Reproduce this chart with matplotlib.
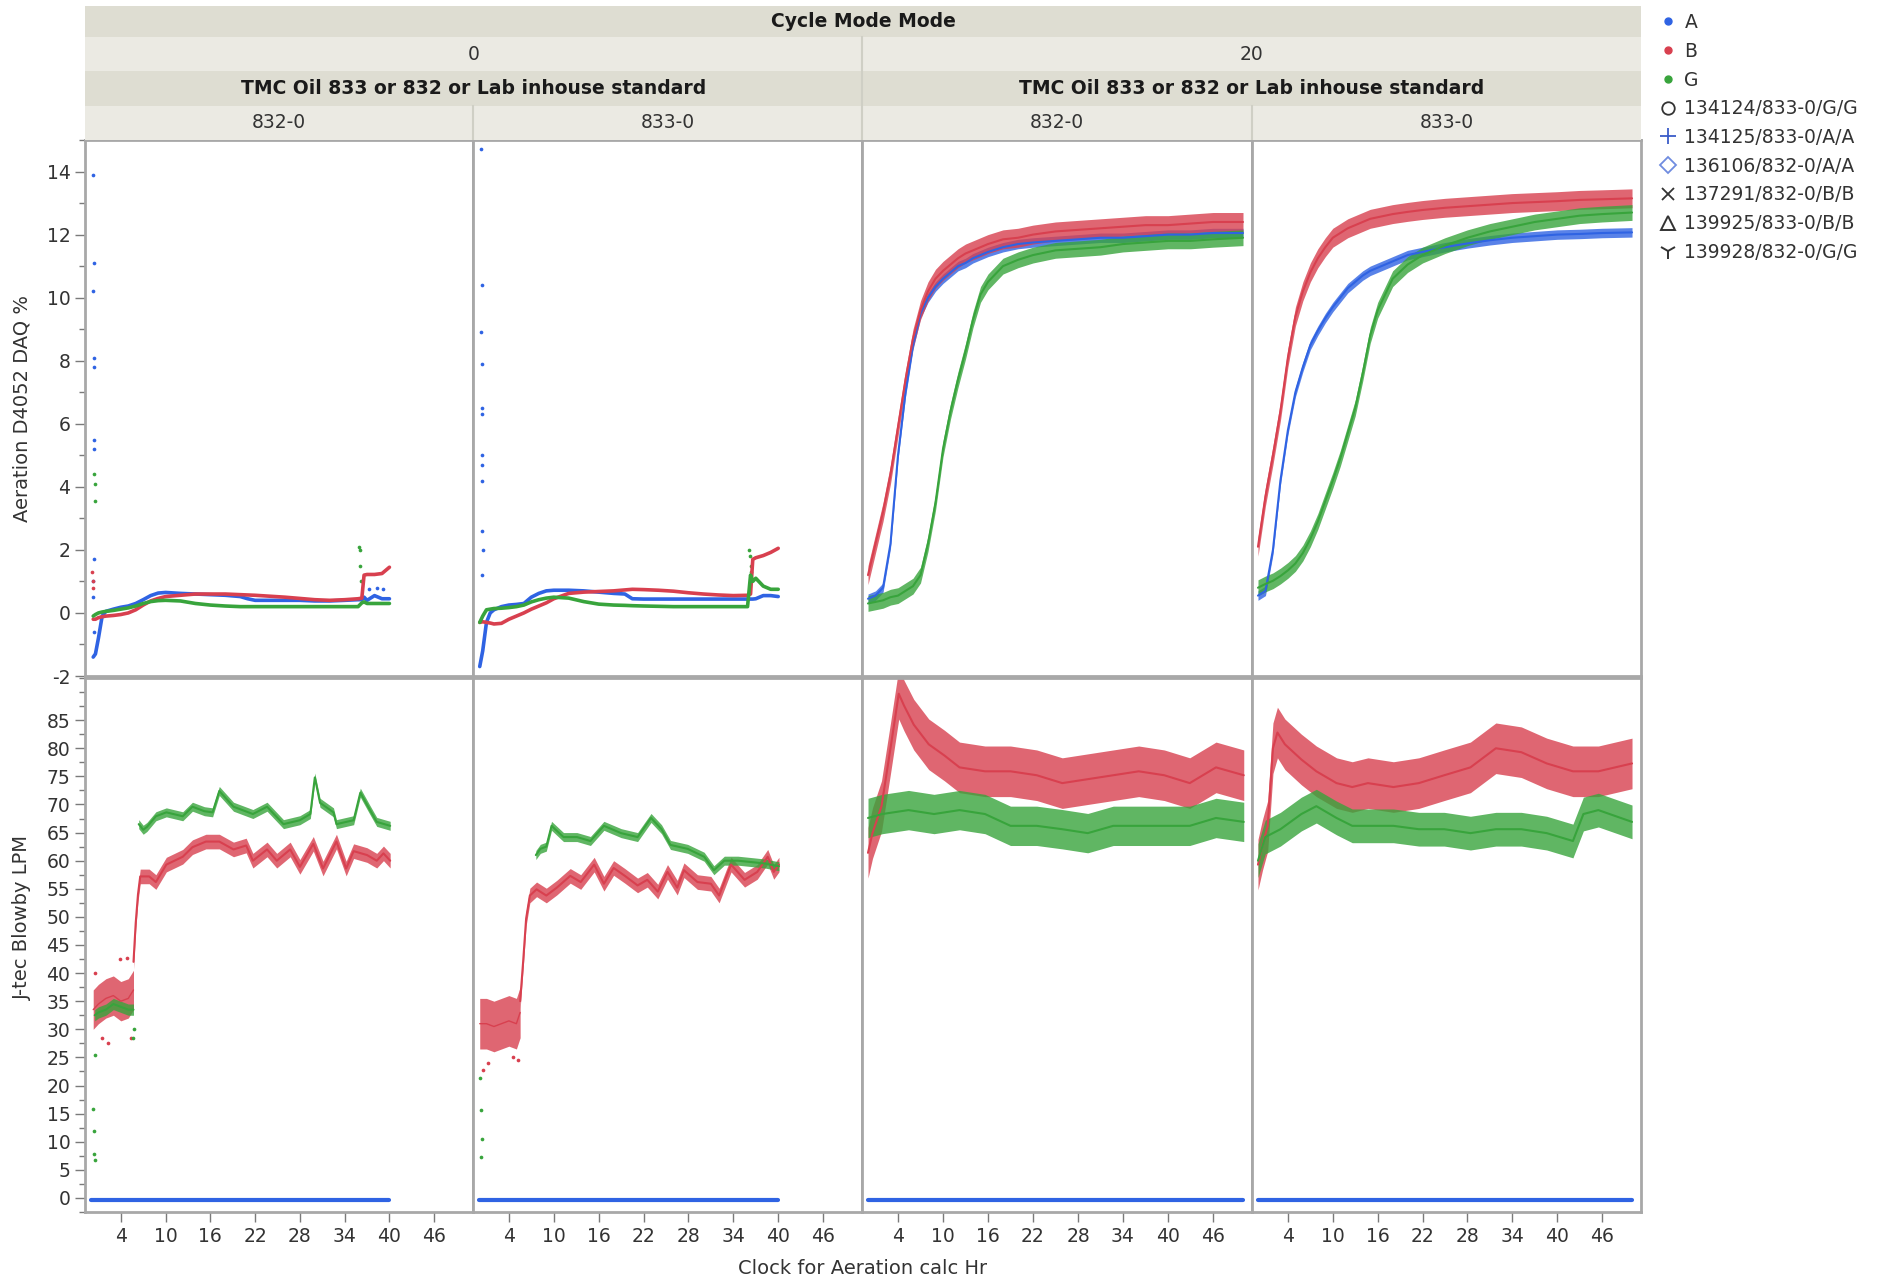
import numpy as np
import matplotlib.pyplot as plt
from matplotlib.lines import Line2D
from matplotlib.patches import Rectangle
from matplotlib.ticker import MultipleLocator

plt.rcParams['font.family'] = ['DejaVu Sans']
plt.rcParams['axes.unicode_minus'] = False

W, H = 1895, 1280
BLUE = '#2f63e3'
RED = '#d8404f'
GREEN = '#38a43c'
GRID_COL = '#a8a8a8'
TXT = '#333333'

# ---------------- Aeration D4052 DAQ %, cycle mode 0 ----------------
hr_aer_c0_832 = [0.3, 0.6, 1.0, 1.5, 2, 3, 4, 5, 6, 7, 8, 9, 10, 12, 14, 16, 18,
                 20, 21, 22, 24, 26, 28, 30, 32, 34, 35.8, 36.3, 36.6, 37, 38, 39, 40]
aer_c0_832_A = [-1.4, -1.3, -0.8, -0.1, 0.05, 0.12, 0.18, 0.22, 0.3, 0.42, 0.55,
                0.63, 0.65, 0.62, 0.6, 0.58, 0.56, 0.52, 0.45, 0.4, 0.4, 0.4, 0.4,
                0.38, 0.38, 0.4, 0.42, 0.42, 0.5, 0.4, 0.55, 0.45, 0.45]
aer_c0_832_B = [-0.2, -0.2, -0.15, -0.12, -0.1, -0.08, -0.05, 0.0, 0.1, 0.25, 0.38,
                0.46, 0.52, 0.56, 0.6, 0.6, 0.6, 0.58, 0.57, 0.56, 0.53, 0.5, 0.46,
                0.42, 0.4, 0.42, 0.45, 0.47, 1.2, 1.22, 1.22, 1.25, 1.45]
aer_c0_832_G = [-0.1, -0.05, 0.0, 0.03, 0.05, 0.08, 0.12, 0.16, 0.22, 0.3, 0.36,
                0.39, 0.4, 0.38, 0.3, 0.25, 0.22, 0.2, 0.2, 0.2, 0.2, 0.2, 0.2,
                0.2, 0.2, 0.2, 0.2, 0.32, 0.35, 0.3, 0.3, 0.3, 0.3]
spk_aer_c0_832_A = ([0.3, 0.35, 0.3, 0.4, 0.35, 0.4, 0.45, 0.4, 0.3, 0.3, 0.35, 37.2, 38.3, 39.1],
                    [13.9, 11.1, 10.2, 8.1, 7.8, 5.5, 5.2, 1.7, 1.0, 0.5, -0.6, 0.75, 0.8, 0.75])
spk_aer_c0_832_B = ([0.2, 0.25, 0.3], [1.3, 1.0, 0.8])
spk_aer_c0_832_G = ([0.45, 0.5, 0.55, 35.9, 36.0, 36.1, 36.2],
                    [4.4, 4.1, 3.55, 2.1, 2.0, 1.5, 1.0])

hr_aer_c0_833 = [0.1, 0.5, 1, 1.5, 2, 3, 4, 5, 6, 7, 8, 9, 10, 12, 14, 16, 18,
                 19.5, 20.5, 22, 24, 26, 28, 30, 32, 34, 35.9, 36.3, 36.6, 37, 38, 39, 40]
aer_c0_833_A = [-1.7, -1.2, -0.3, 0.0, 0.1, 0.2, 0.25, 0.27, 0.3, 0.5, 0.62, 0.7,
                0.72, 0.72, 0.7, 0.66, 0.62, 0.6, 0.45, 0.44, 0.44, 0.44, 0.44,
                0.44, 0.44, 0.44, 0.44, 0.44, 0.44, 0.45, 0.55, 0.55, 0.52]
aer_c0_833_B = [-0.3, -0.28, -0.3, -0.32, -0.35, -0.33, -0.2, -0.1, 0.0, 0.12, 0.22,
                0.32, 0.45, 0.62, 0.66, 0.68, 0.7, 0.73, 0.75, 0.74, 0.72, 0.69,
                0.64, 0.6, 0.57, 0.55, 0.56, 0.6, 1.7, 1.75, 1.82, 1.92, 2.05]
aer_c0_833_G = [-0.3, -0.1, 0.1, 0.12, 0.14, 0.15, 0.17, 0.2, 0.25, 0.35, 0.42,
                0.47, 0.5, 0.47, 0.36, 0.28, 0.25, 0.24, 0.23, 0.22, 0.21, 0.2,
                0.2, 0.2, 0.2, 0.2, 0.2, 1.2, 1.0, 1.1, 0.85, 0.75, 0.75]
spk_aer_c0_833_A = ([0.3, 0.35, 0.3, 0.35, 0.4, 0.35, 0.45, 0.45, 0.35, 0.35, 0.6, 0.4],
                    [14.7, 10.4, 8.9, 7.9, 6.5, 6.3, 5.0, 4.7, 4.2, 2.6, 2.0, 1.2])
spk_aer_c0_833_G = ([36.1, 36.2, 36.3, 36.4], [2.0, 1.8, 1.5, 1.3])

# ---------------- Aeration D4052 DAQ %, cycle mode 20 ----------------
hr_aer_c20 = [0, 1, 2, 3, 4, 5, 6, 7, 8, 9, 10, 11, 12, 13, 14, 15, 16, 18, 20,
              22, 25, 28, 31, 34, 37, 40, 43, 46, 50]
aer_c20_832_A = [0.45, 0.55, 0.8, 2.2, 5.0, 7.0, 8.5, 9.5, 10.0, 10.35, 10.6, 10.8,
                 11.0, 11.1, 11.25, 11.35, 11.45, 11.6, 11.7, 11.75, 11.8, 11.85,
                 11.9, 11.9, 11.95, 12.0, 12.0, 12.05, 12.05]
aer_c20_832_B = [1.2, 2.2, 3.2, 4.4, 5.9, 7.4, 8.7, 9.6, 10.2, 10.6, 10.85, 11.05,
                 11.25, 11.4, 11.5, 11.6, 11.7, 11.85, 11.9, 12.0, 12.1, 12.15,
                 12.2, 12.25, 12.3, 12.3, 12.35, 12.4, 12.4]
aer_c20_832_G = [0.3, 0.35, 0.4, 0.5, 0.55, 0.7, 0.85, 1.2, 2.2, 3.5, 5.2, 6.4,
                 7.4, 8.3, 9.3, 10.1, 10.5, 11.0, 11.2, 11.35, 11.5, 11.55, 11.6,
                 11.7, 11.75, 11.8, 11.8, 11.85, 11.9]
aer_c20_833_A = [0.55, 0.7, 2.0, 4.2, 5.8, 7.0, 7.8, 8.5, 8.95, 9.35, 9.7, 10.0,
                 10.3, 10.5, 10.7, 10.85, 10.95, 11.15, 11.35, 11.45, 11.6, 11.72,
                 11.82, 11.9, 11.95, 12.0, 12.02, 12.05, 12.07]
aer_c20_833_B = [2.1, 3.7, 5.0, 6.4, 8.1, 9.4, 10.2, 10.8, 11.25, 11.6, 11.9, 12.05,
                 12.2, 12.3, 12.4, 12.5, 12.55, 12.65, 12.72, 12.78, 12.85, 12.9,
                 12.95, 13.0, 13.03, 13.06, 13.1, 13.12, 13.15]
aer_c20_833_G = [0.8, 0.92, 1.02, 1.17, 1.35, 1.57, 1.9, 2.35, 2.9, 3.55, 4.2, 4.9,
                 5.7, 6.5, 7.6, 8.8, 9.6, 10.6, 11.05, 11.35, 11.65, 11.9, 12.1,
                 12.25, 12.4, 12.5, 12.6, 12.65, 12.7]
# noise half-width of the dense point clouds (aeration %)
aer_c20_noise = {'A': 0.15, 'B': 0.3, 'G': 0.25}

# ---------------- J-tec Blowby LPM, cycle mode 0 ----------------
hr_blow_c0_832_B0 = [0.3, 1, 2, 3, 4, 5, 5.7]
blow_c0_832_B0 = [33.5, 34.5, 35.5, 36, 35, 35.5, 37]
hr_blow_c0_832_B = [5.7, 6.0, 6.3, 6.6, 7.8, 8.7, 10.1, 12.3, 13.6, 15.4, 17.2, 19.1,
                    20.8, 21.7, 23.6, 24.9, 26.7, 28, 29.8, 31.1, 32.9, 34.2, 35.2,
                    37, 38.3, 39.2, 40.1]
blow_c0_832_B = [42, 49, 54, 57.2, 57.2, 56.2, 59.3, 60.7, 62.4, 63.4, 63.4, 62,
                 62.7, 60, 62, 60, 62, 58.9, 63, 58.6, 63.4, 58.6, 61.7, 61, 60,
                 61.3, 60]
hr_blow_c0_832_G0 = [0.5, 1, 2, 3, 4, 5, 5.7]
blow_c0_832_G0 = [32.5, 33, 33.5, 34.5, 34, 33.5, 33.5]
hr_blow_c0_832_G = [6.4, 7.0, 7.5, 8.7, 10.1, 12.3, 13.6, 15.2, 16.3, 17.2, 19.1,
                    21.7, 23.6, 25.8, 28, 29.4, 30, 30.7, 32.5, 32.9, 35.2, 36.1,
                    37.4, 38.3, 40.1]
blow_c0_832_G = [66.5, 65.5, 66, 67.9, 68.6, 67.9, 69.6, 68.8, 68.6, 72.4, 69.6,
                 68.3, 69.6, 66.5, 67.2, 68.3, 74.8, 70.3, 68.6, 66.5, 67.2, 72.1,
                 69, 66.9, 66.2]
spk_blow_c0_832_G = ([0.3, 0.4, 0.45, 0.5, 0.6, 5.6, 5.7],
                     [15.8, 11.9, 7.8, 6.7, 25.4, 28.5, 30.0])
spk_blow_c0_832_B = ([0.5, 1.5, 2.3, 3.9, 4.8, 5.3],
                     [40.0, 28.5, 27.5, 42.5, 42.7, 28.5])

hr_blow_c0_833_B0 = [0.1, 1, 2, 3, 4, 5, 5.5]
blow_c0_833_B0 = [31, 31, 30.5, 31, 31.5, 31, 33]
hr_blow_c0_833_B = [5.5, 5.9, 6.3, 6.8, 7.7, 9.0, 10.4, 12.2, 13.6, 15.4, 16.7, 18,
                    19.5, 21.2, 22.5, 23.9, 25.2, 26.5, 27.4, 29.2, 31, 32.1, 33.7,
                    35.5, 37.2, 38.6, 39.4, 40.1]
blow_c0_833_B = [35, 42, 49.7, 53.8, 54.9, 53.8, 55.2, 57.3, 56.2, 59.3, 55.9, 58.7,
                 57.3, 55.6, 56.6, 54.5, 58, 55.2, 58.3, 56.2, 55.9, 53.8, 59.3,
                 56.6, 58, 60.7, 58, 59.3]
hr_blow_c0_833_G = [7.6, 8.2, 9.0, 9.7, 11.3, 13.1, 14.9, 16.7, 19, 21.2, 23, 24.4,
                    25.6, 27.9, 30.1, 31.4, 32.8, 34.6, 36.8, 38.2, 40.1]
blow_c0_833_G = [61, 62.1, 62.5, 66.2, 64.2, 64.2, 63.5, 66.2, 64.9, 64.2, 67.6,
                 65.6, 62.8, 62.1, 60.7, 58.3, 60, 60, 59.7, 59.5, 59]
spk_blow_c0_833_G = ([0.2, 0.3, 0.35, 0.25], [21.4, 15.6, 10.4, 7.3])
spk_blow_c0_833_B = ([0.5, 1.2, 4.6, 5.2], [22.8, 24.0, 25.0, 24.5])

# ---------------- J-tec Blowby LPM, cycle mode 20 ----------------
hr_blow_c20_832_B = [0, 0.6, 1.8, 3.0, 4.1, 4.8, 6.1, 8.1, 10.2, 12.2, 15.6, 19,
                     22.5, 25.9, 29.3, 32.7, 36.1, 39.5, 42.9, 46.4, 50.1]
blow_c20_832_B = [61.4, 64.9, 69.7, 80, 89.7, 87.6, 84.2, 80.7, 78.7, 76.6, 75.9,
                  75.9, 75.2, 73.8, 74.5, 75.2, 75.9, 75.2, 73.8, 76.6, 75.2]
hr_blow_c20_832_G = [0, 1.9, 5.4, 8.8, 12.2, 15.6, 19, 22.5, 25.9, 29.3, 32.7, 36.1,
                     39.5, 42.9, 46.4, 50.1]
blow_c20_832_G = [67.6, 68.3, 69, 68.3, 69, 68.3, 66.2, 66.2, 65.6, 64.9, 66.2,
                  66.2, 66.2, 66.2, 67.6, 66.9]
hr_blow_c20_833_B = [0, 0.6, 1.3, 2.0, 2.6, 3.6, 5.8, 7.8, 10.5, 12.6, 14.7, 18.1,
                     21.5, 24.9, 28.4, 31.8, 35.2, 38.6, 42.1, 45.5, 50]
blow_c20_833_B = [59.3, 62.8, 66.2, 80, 82.8, 80.7, 78, 75.9, 73.8, 73.1, 73.8,
                  73.1, 73.8, 75.2, 76.6, 80, 79.3, 77.3, 75.9, 75.9, 77.3]
hr_blow_c20_833_G = [0, 0.97, 3.0, 5.8, 7.8, 10.5, 12.6, 18.1, 21.5, 24.9, 28.4,
                     31.8, 35.2, 38.6, 42.1, 43.5, 45.5, 50]
blow_c20_833_G = [60, 64.2, 65.6, 68.3, 69.7, 67.6, 66.2, 66.2, 65.6, 65.6, 64.9,
                  65.6, 65.6, 64.9, 63.5, 68.3, 69, 66.9]
# blowby for group A sits flat just below zero for the whole run
hr_blow_A_c0 = [0, 40]
hr_blow_A_c20 = [0, 50]
blow_A = [-0.3, -0.3]

col_labels = ['832-0', '833-0', '832-0', '833-0']
cycle_labels = ['0', '20']
legend_labels = ['A', 'B', 'G', '134124/833-0/G/G', '134125/833-0/A/A',
                 '136106/832-0/A/A', '137291/832-0/B/B', '139925/833-0/B/B',
                 '139928/832-0/G/G']


def box(x0, y0, x1, y1):
    return [x0 / W, 1 - y1 / H, (x1 - x0) / W, (y1 - y0) / H]


def trace(ax, t, v, color, noise=0.0, lw=2.6):
    t = np.asarray(t)
    v = np.asarray(v)
    if noise > 0:
        ax.fill_between(t, v - noise, v + noise, color=color, alpha=0.8, lw=0)
    ax.plot(t, v, color=color, lw=lw, solid_capstyle='round')


def spikes(ax, pts, color):
    ax.scatter(pts[0], pts[1], s=7, color=color, lw=0)


fig = plt.figure(figsize=(W / 100, H / 100), dpi=100)

col_x = [85, 473, 862, 1252, 1641]
row_y = [(140, 676), (678, 1212)]
axes = [[None] * 4 for _ in range(2)]
for r in range(2):
    for c in range(4):
        ax = fig.add_axes(box(col_x[c], row_y[r][0], col_x[c + 1], row_y[r][1]))
        axes[r][c] = ax
        ax.set_xlim(-0.8, 51.2)
        for s in ax.spines.values():
            s.set_color(GRID_COL)
            s.set_linewidth(2)
        ax.tick_params(which='both', colors='#7a7a7a', labelcolor=TXT,
                       labelsize=13.5, width=1)
        ax.tick_params(which='major', length=7)
        ax.tick_params(which='minor', length=4)
        ax.set_xticks([4, 10, 16, 22, 28, 34, 40, 46])
        if r == 0:
            ax.set_ylim(-2, 15)
            ax.set_yticks(np.arange(-2, 15, 2))
            ax.yaxis.set_minor_locator(MultipleLocator(1))
            ax.tick_params(axis='x', bottom=False, labelbottom=False)
        else:
            ax.set_ylim(-2.5, 92.5)
            ax.set_yticks(np.arange(0, 90, 5))
            ax.yaxis.set_minor_locator(MultipleLocator(2.5))
        if c > 0:
            ax.tick_params(axis='y', which='both', left=False, labelleft=False)

# top row, aeration
ax = axes[0][0]
trace(ax, hr_aer_c0_832, aer_c0_832_A, BLUE)
trace(ax, hr_aer_c0_832, aer_c0_832_B, RED)
trace(ax, hr_aer_c0_832, aer_c0_832_G, GREEN)
spikes(ax, spk_aer_c0_832_A, BLUE)
spikes(ax, spk_aer_c0_832_B, RED)
spikes(ax, spk_aer_c0_832_G, GREEN)

ax = axes[0][1]
trace(ax, hr_aer_c0_833, aer_c0_833_A, BLUE)
trace(ax, hr_aer_c0_833, aer_c0_833_B, RED)
trace(ax, hr_aer_c0_833, aer_c0_833_G, GREEN)
spikes(ax, spk_aer_c0_833_A, BLUE)
spikes(ax, spk_aer_c0_833_G, GREEN)

ax = axes[0][2]
trace(ax, hr_aer_c20, aer_c20_832_A, BLUE, aer_c20_noise['A'], 1.5)
trace(ax, hr_aer_c20, aer_c20_832_B, RED, aer_c20_noise['B'], 1.5)
trace(ax, hr_aer_c20, aer_c20_832_G, GREEN, aer_c20_noise['G'], 1.5)

ax = axes[0][3]
trace(ax, hr_aer_c20, aer_c20_833_A, BLUE, aer_c20_noise['A'], 1.5)
trace(ax, hr_aer_c20, aer_c20_833_B, RED, aer_c20_noise['B'], 1.5)
trace(ax, hr_aer_c20, aer_c20_833_G, GREEN, aer_c20_noise['G'], 1.5)

# bottom row, blowby
ax = axes[1][0]
trace(ax, hr_blow_A_c0, blow_A, BLUE, lw=3)
trace(ax, hr_blow_c0_832_B0, blow_c0_832_B0, RED, 3.5, 1)
trace(ax, hr_blow_c0_832_B, blow_c0_832_B, RED, 1.3, 1.5)
trace(ax, hr_blow_c0_832_G0, blow_c0_832_G0, GREEN, 1.0, 1.5)
trace(ax, hr_blow_c0_832_G, blow_c0_832_G, GREEN, 0.8, 1.5)
spikes(ax, spk_blow_c0_832_B, RED)
spikes(ax, spk_blow_c0_832_G, GREEN)

ax = axes[1][1]
trace(ax, hr_blow_A_c0, blow_A, BLUE, lw=3)
trace(ax, hr_blow_c0_833_B0, blow_c0_833_B0, RED, 4.5, 1)
trace(ax, hr_blow_c0_833_B, blow_c0_833_B, RED, 1.3, 1.5)
trace(ax, hr_blow_c0_833_G, blow_c0_833_G, GREEN, 0.8, 1.5)
spikes(ax, spk_blow_c0_833_B, RED)
spikes(ax, spk_blow_c0_833_G, GREEN)

ax = axes[1][2]
trace(ax, hr_blow_A_c20, blow_A, BLUE, lw=3)
trace(ax, hr_blow_c20_832_B, blow_c20_832_B, RED, 4.5, 1.5)
trace(ax, hr_blow_c20_832_G, blow_c20_832_G, GREEN, 3.5, 1.5)

ax = axes[1][3]
trace(ax, hr_blow_A_c20, blow_A, BLUE, lw=3)
trace(ax, hr_blow_c20_833_B, blow_c20_833_B, RED, 4.5, 1.5)
trace(ax, hr_blow_c20_833_G, blow_c20_833_G, GREEN, 3.0, 1.5)

# header bands
hax = fig.add_axes(box(85, 6, 1641, 140))
hax.set_xlim(85, 1641)
hax.set_ylim(140, 6)
hax.axis('off')
dark, light = '#deddd2', '#ebeae3'
bands = [(6, 37, dark), (37, 71, light), (71, 106, dark), (106, 140, light)]
for y0, y1, fc in bands:
    hax.add_patch(Rectangle((85, y0), 1641 - 85, y1 - y0, facecolor=fc, edgecolor='none'))
hax.plot([862, 862], [37, 140], color='#cfcfc5', lw=1.5)
for xc in (473, 1252):
    hax.plot([xc, xc], [106, 140], color='#cfcfc5', lw=1.5)
hax.text(863, 21.5, 'Cycle Mode Mode', ha='center', va='center',
         fontsize=13.5, fontweight='bold', color='#1a1a1a')
for i, lab in enumerate(cycle_labels):
    xc = (col_x[2 * i] + col_x[2 * i + 2]) / 2
    hax.text(xc, 54, lab, ha='center', va='center', fontsize=13.5, color=TXT)
    hax.text(xc, 88.5, 'TMC Oil 833 or 832 or Lab inhouse standard', ha='center',
             va='center', fontsize=13.5, fontweight='bold', color='#1a1a1a')
for c, lab in enumerate(col_labels):
    xc = (col_x[c] + col_x[c + 1]) / 2
    hax.text(xc, 123, lab, ha='center', va='center', fontsize=13.5, color=TXT)

# axis titles
fig.text(22 / W, 1 - 408 / H, 'Aeration D4052 DAQ %', rotation=90, ha='center',
         va='center', fontsize=14, color=TXT)
fig.text(22 / W, 1 - 918 / H, 'J-tec Blowby LPM', rotation=90, ha='center',
         va='center', fontsize=14, color=TXT)
fig.text(863 / W, 1 - 1268 / H, 'Clock for Aeration calc Hr', ha='center',
         va='center', fontsize=14, color=TXT)

# legend
handles = [
    Line2D([], [], ls='', marker='o', ms=5, color=BLUE),
    Line2D([], [], ls='', marker='o', ms=5, color=RED),
    Line2D([], [], ls='', marker='o', ms=5, color=GREEN),
    Line2D([], [], ls='', marker='o', ms=9, mfc='none', mec='#333333', mew=1.3),
    Line2D([], [], ls='', marker='+', ms=11, color='#3a5cc8', mew=1.3),
    Line2D([], [], ls='', marker='D', ms=8, mfc='none', mec='#6f8ce0', mew=1.3),
    Line2D([], [], ls='', marker='x', ms=9, color='#333333', mew=1.3),
    Line2D([], [], ls='', marker='^', ms=10, mfc='none', mec='#333333', mew=1.4),
    Line2D([], [], ls='', marker='1', ms=12, color='#333333', mew=1.4),
]
fig.legend(handles, legend_labels, loc='upper left',
           bbox_to_anchor=(1660 / W, 1 - 13 / H), frameon=False, fontsize=13.5,
           handlelength=0.9, handletextpad=0.4, labelspacing=0.52,
           borderaxespad=0, borderpad=0, labelcolor=TXT)

fig.savefig('out.png', dpi=100, facecolor='white')
